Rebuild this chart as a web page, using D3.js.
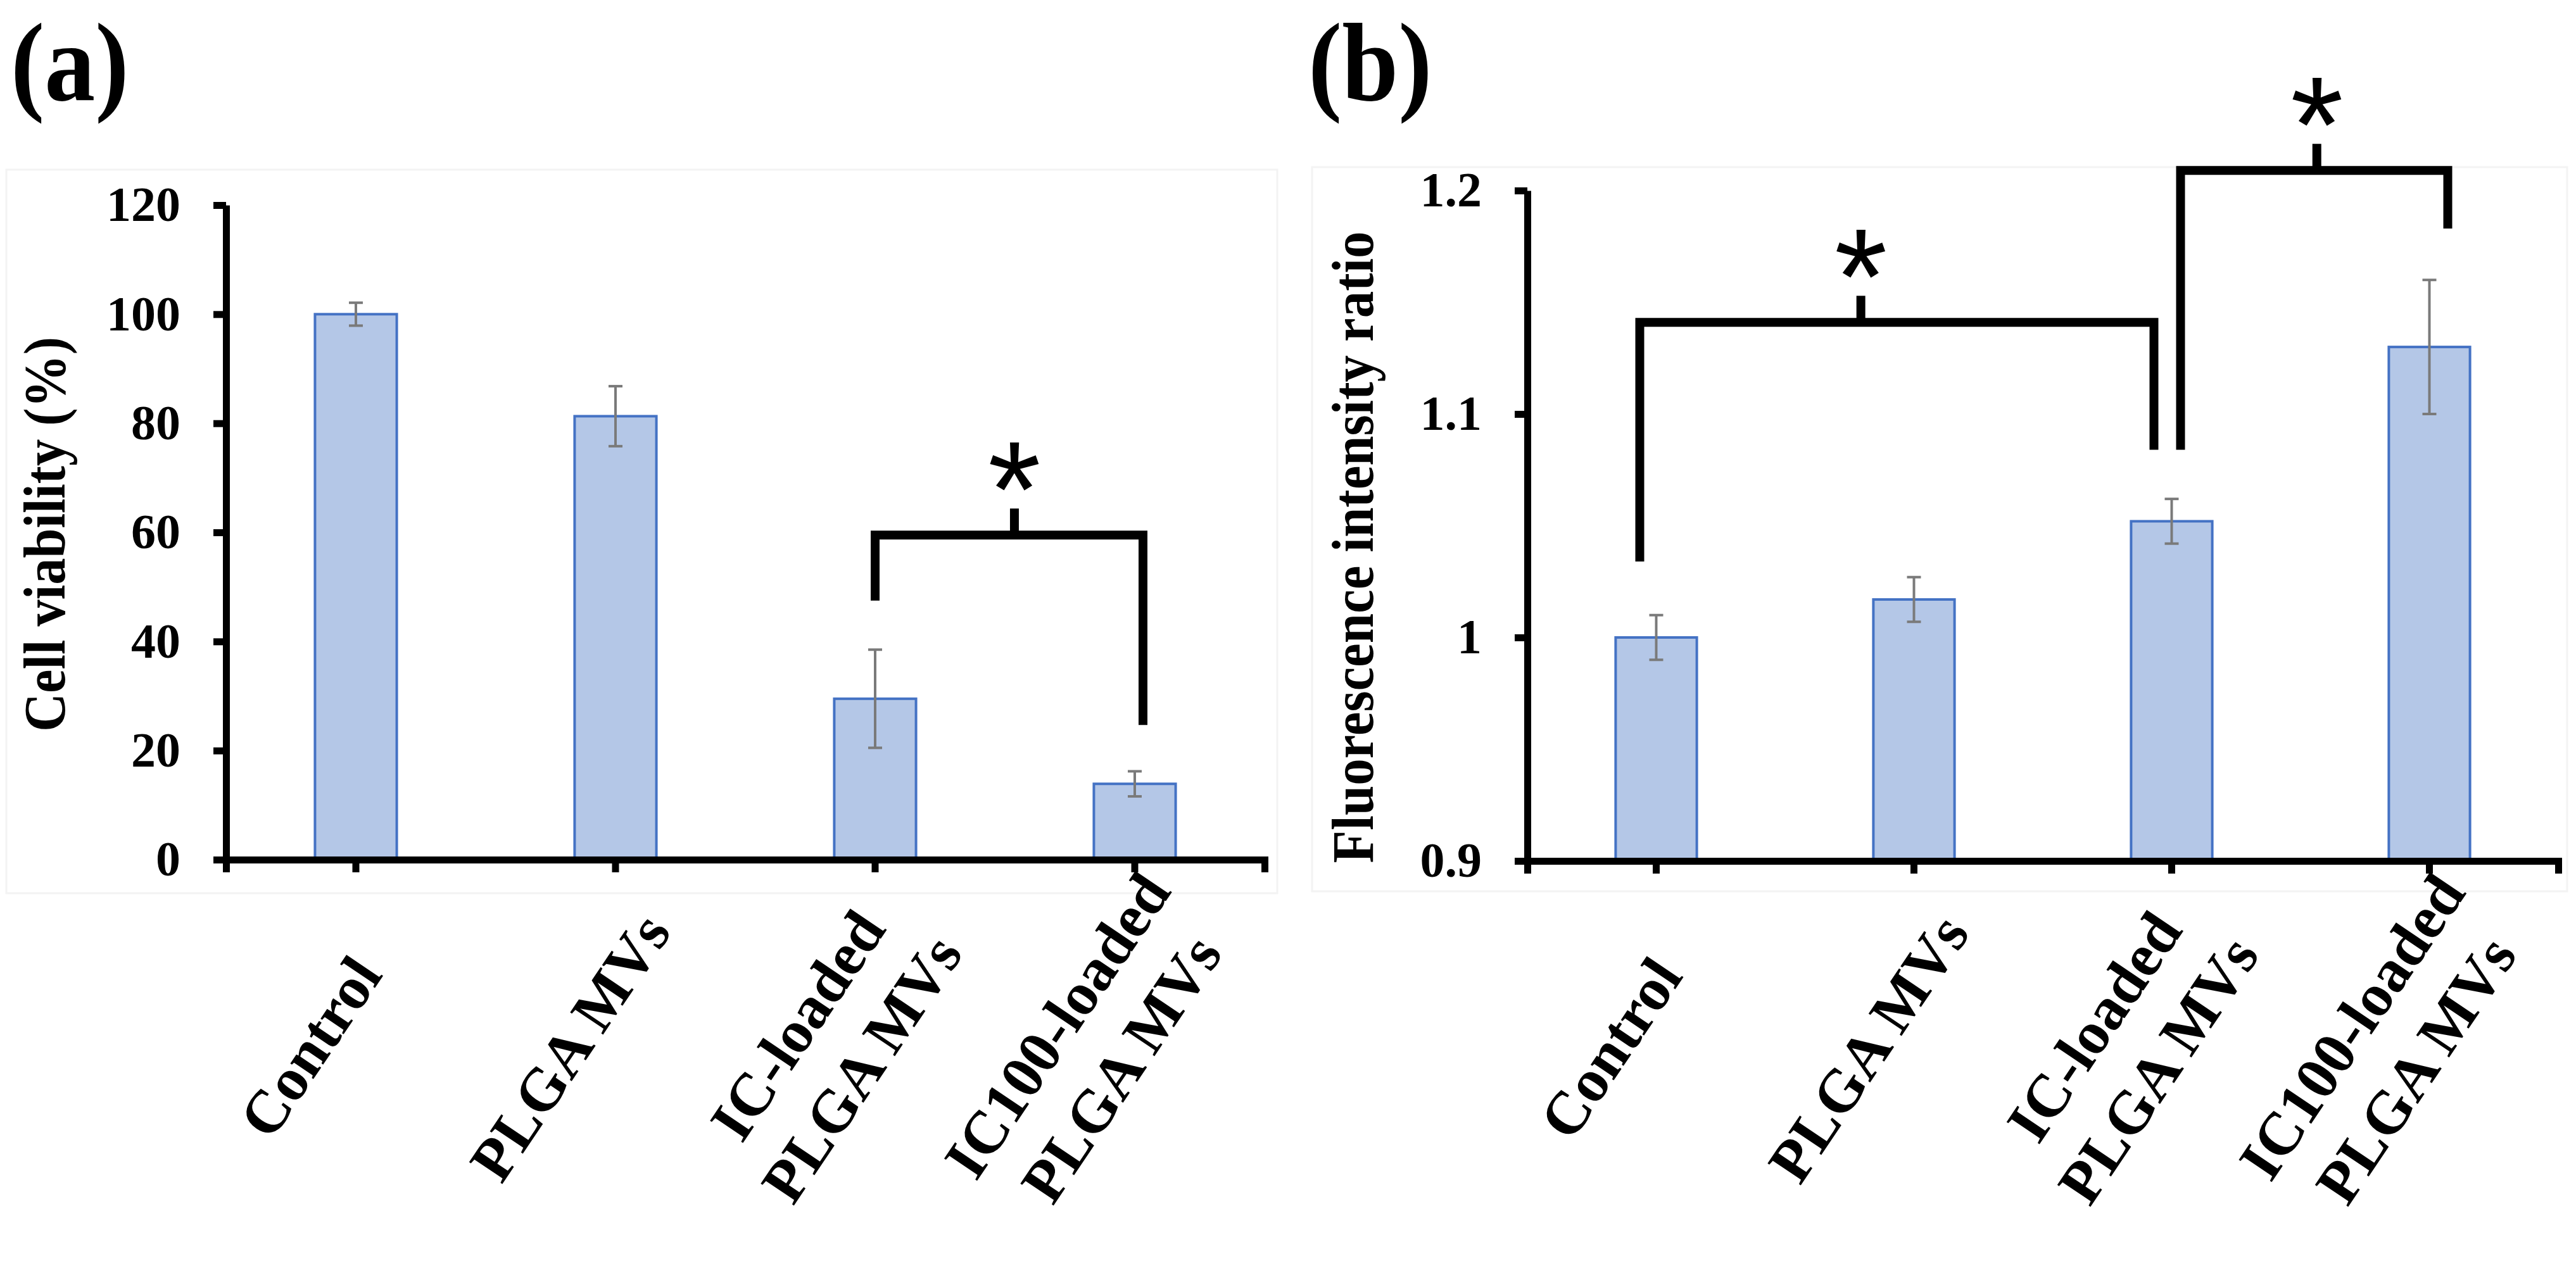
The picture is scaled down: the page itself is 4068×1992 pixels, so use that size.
<!DOCTYPE html>
<html>
<head>
<meta charset="utf-8">
<script src="https://cdn.jsdelivr.net/npm/d3@7"></script>
<style>
  body { margin: 0; background: #fff; }
  text { font-family: "Liberation Serif", "Times New Roman", serif; font-weight: bold; }
</style>
</head>
<body>
<svg></svg>
<script>
// categories (one array per label line)
var categories = [["Control"], ["PLGA MVs"], ["IC-loaded", "PLGA MVs"], ["IC100-loaded", "PLGA MVs"]];

// (a) cell viability
var viability = [100, 81.3, 29.5, 13.9];
var viabilityErr = [2.1, 5.5, 9.0, 2.3];
var viabilityTicks = [0, 20, 40, 60, 80, 100, 120];
var viabilityBrackets = [{from: 2, to: 3, y: 59.5, fromEnd: 47.5, toEnd: 24.7}];

// (b) fluorescence intensity ratio
var fluorescence = [1.000, 1.017, 1.052, 1.130];
var fluorescenceErr = [0.010, 0.010, 0.010, 0.030];
var fluorescenceTicks = [0.9, 1.0, 1.1, 1.2];
var fluorescenceBrackets = [
  {from: 0, to: 2, y: 1.141, fromEnd: 1.034, toEnd: 1.084},
  {from: 2, to: 3, y: 1.209, fromEnd: 1.084, toEnd: 1.183}
];

var width = 4068, height = 1992;

var svg = d3.select("svg")
    .attr("width", width)
    .attr("height", height);

var panels = [
  {label: "(a)", labelX: 17, left: 357, right: 1997, top: 324, bottom: 1358,
   domain: [0, 120], ticks: viabilityTicks, values: viability, errors: viabilityErr,
   fmt: d3.format("d"), title: "Cell viability (%)", titleX: 102, titleShift: 3, titleLen: 624,
   frame: [10, 268, 2017, 1411], brackets: viabilityBrackets,
   legShift: [[0, 13]], tickFrac: [0.52]},
  {label: "(b)", labelX: 2066, left: 2412, right: 4040, top: 301, bottom: 1360,
   domain: [0.9, 1.2], ticks: fluorescenceTicks, values: fluorescence, errors: fluorescenceErr,
   fmt: function(d) { return String(+d.toFixed(1)); },
   title: "Fluorescence intensity ratio", titleX: 2168, titleShift: 34, titleLen: 998,
   frame: [2072, 264, 4054, 1408], brackets: fluorescenceBrackets,
   legShift: [[-26, -28], [14, 29]], tickFrac: [0.43, 0.51]}
];

panels.forEach(function(p) {
  var g = svg.append("g");

  // faint chart-area border
  g.append("rect")
    .attr("x", p.frame[0]).attr("y", p.frame[1])
    .attr("width", p.frame[2] - p.frame[0]).attr("height", p.frame[3] - p.frame[1])
    .attr("fill", "none").attr("stroke", "#f3f3f3").attr("stroke-width", 3);

  var x = d3.scaleBand()
    .domain(d3.range(categories.length))
    .range([p.left, p.right])
    .paddingInner(0.685)
    .paddingOuter(0.3425);

  var y = d3.scaleLinear()
    .domain(p.domain)
    .range([p.bottom, p.top]);

  // bars
  g.selectAll(".bar")
    .data(p.values)
    .enter()
    .append("rect")
    .attr("x", function(d, i) { return x(i); })
    .attr("y", function(d) { return y(d); })
    .attr("width", x.bandwidth())
    .attr("height", function(d) { return y(p.domain[0]) - y(d); })
    .attr("fill", "#b4c7e7")
    .attr("stroke", "#4472c4")
    .attr("stroke-width", 4);

  // error bars
  var cx = function(i) { return x(i) + x.bandwidth() / 2; };
  var err = g.selectAll(".err")
    .data(p.values)
    .enter()
    .append("g")
    .attr("stroke", "#7a7a7a")
    .attr("stroke-width", 4);
  err.append("line")
    .attr("x1", function(d, i) { return cx(i); })
    .attr("x2", function(d, i) { return cx(i); })
    .attr("y1", function(d, i) { return y(d + p.errors[i]); })
    .attr("y2", function(d, i) { return y(d - p.errors[i]); });
  [1, -1].forEach(function(s) {
    err.append("line")
      .attr("x1", function(d, i) { return cx(i) - 11; })
      .attr("x2", function(d, i) { return cx(i) + 11; })
      .attr("y1", function(d, i) { return y(d + s * p.errors[i]); })
      .attr("y2", function(d, i) { return y(d + s * p.errors[i]); });
  });

  // y axis
  var yAxis = g.append("g")
    .attr("transform", "translate(" + p.left + ",0)")
    .call(d3.axisLeft(y).tickValues(p.ticks).tickFormat(p.fmt)
      .tickSize(20).tickSizeOuter(0).tickPadding(52));
  yAxis.selectAll("path, line").attr("stroke", "#000").attr("stroke-width", 11);
  yAxis.selectAll("text")
    .attr("fill", "#000")
    .style("font-size", "78px")
    .style("font-family", "Liberation Serif")
    .style("font-weight", "bold");

  // x axis
  var xAxis = g.append("g")
    .attr("transform", "translate(0," + p.bottom + ")")
    .call(d3.axisBottom(x).tickSize(20).tickSizeOuter(20).tickFormat(""));
  xAxis.selectAll("path, line").attr("stroke", "#000").attr("stroke-width", 11);

  // rotated category labels
  categories.forEach(function(lines, i) {
    var lab = g.append("g")
      .attr("transform", "translate(" + (cx(i) - 72) + "," + (p.bottom + 296) + ") rotate(-56)");
    lines.forEach(function(t, j) {
      lab.append("text")
        .attr("y", (j - (lines.length - 1) / 2) * 122)
        .attr("text-anchor", "middle")
        .attr("dominant-baseline", "central")
        .style("font-size", "96px")
        .text(t);
    });
  });

  // y title
  g.append("text")
    .attr("transform", "translate(" + p.titleX + "," + ((p.top + p.bottom) / 2 + p.titleShift) + ") rotate(-90)")
    .attr("text-anchor", "middle")
    .attr("textLength", p.titleLen)
    .attr("lengthAdjust", "spacingAndGlyphs")
    .style("font-size", "94px")
    .text(p.title);

  // panel letter
  g.append("text")
    .attr("transform", "translate(" + p.labelX + ",158) scale(1,1.1)")
    .style("font-size", "160px")
    .text(p.label);

  // significance brackets
  p.brackets.forEach(function(b, k) {
    var xl = cx(b.from) + p.legShift[k][0];
    var xr = cx(b.to) + p.legShift[k][1];
    var yb = y(b.y);
    var xm = xl + (xr - xl) * p.tickFrac[k];
    g.append("path")
      .attr("d", "M" + xl + "," + y(b.fromEnd) + "V" + yb + "H" + xr + "V" + y(b.toEnd))
      .attr("fill", "none").attr("stroke", "#000").attr("stroke-width", 14)
      .attr("stroke-linejoin", "miter");
    g.append("line")
      .attr("x1", xm).attr("x2", xm)
      .attr("y1", yb).attr("y2", yb - 42)
      .attr("stroke", "#000").attr("stroke-width", 14);
    g.append("text")
      .attr("x", xm)
      .attr("y", yb - 128 + 130)
      .attr("text-anchor", "middle")
      .style("font-family", "Liberation Sans")
      .style("font-weight", "normal")
      .style("font-size", "215px")
      .text("*");
  });
});
</script>
</body>
</html>
